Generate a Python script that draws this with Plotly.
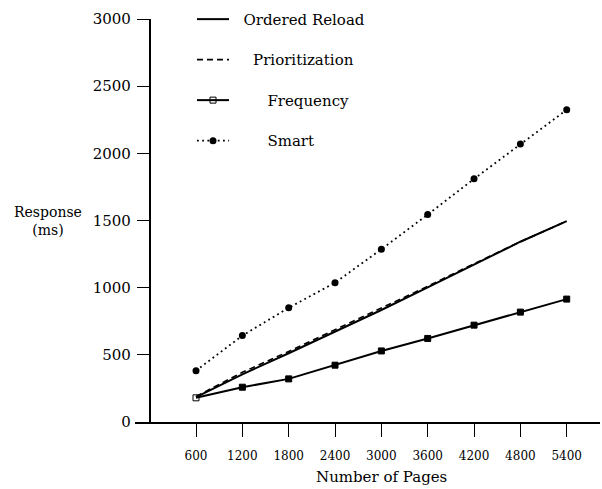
import plotly.graph_objects as go

pages = [600, 1200, 1800, 2400, 3000, 3600, 4200, 4800, 5400]
ordered_reload = [185, 355, 512, 672, 834, 1002, 1175, 1342, 1495]
prioritization = [190, 370, 525, 686, 846, 1010, 1178, 1342, 1495]
frequency = [180, 259, 321, 423, 529, 622, 721, 818, 915]
smart = [382, 643, 850, 1037, 1286, 1544, 1810, 2069, 2324]

x_ticks = pages
y_ticks = [0, 500, 1000, 1500, 2000, 2500, 3000]

FONT = "DejaVu Serif"
NB = "\u00a0"

fig = go.Figure()
fig.add_trace(go.Scatter(x=pages, y=ordered_reload, mode="lines", name=NB * 2 + "Ordered Reload",
                         legendgroup="a", line=dict(color="black", width=2)))
fig.add_trace(go.Scatter(x=pages, y=prioritization, mode="lines", name=NB * 4 + "Prioritization",
                         legendgroup="b", line=dict(color="black", width=1.6, dash="6px,4px")))
fig.add_trace(go.Scatter(x=pages, y=frequency, mode="lines+markers", name=NB * 7 + "Frequency",
                         legendgroup="c", line=dict(color="black", width=2),
                         marker=dict(symbol=["square-open"] + ["square"] * 8, size=6, color="black",
                                     line=dict(color="black", width=1))))
fig.add_trace(go.Scatter(x=pages, y=smart, mode="lines+markers", name=NB * 7 + "Smart",
                         legendgroup="d", line=dict(color="black", width=1.8, dash="1.8px,3.4px"),
                         marker=dict(symbol="circle", size=7, color="black")))

fig.add_annotation(text="Response<br>(ms)", xref="paper", yref="paper", x=-0.187, y=0.50,
                   xanchor="center", yanchor="middle",
                   showarrow=False, font=dict(family=FONT, size=14, color="black"), align="center")
fig.add_annotation(text="Number of Pages", xref="x", yref="paper", x=3000, y=0, yshift=-55,
                   xanchor="center", yanchor="middle",
                   showarrow=False, font=dict(family=FONT, size=15, color="black"))

fig.update_layout(
    width=602, height=489,
    margin=dict(l=135, r=2, t=19, b=67),
    paper_bgcolor="white", plot_bgcolor="white",
    font=dict(family=FONT, color="black"),
    showlegend=True,
    legend=dict(x=(192 - 135) / 465, y=1.04, xanchor="left", yanchor="top", tracegroupgap=18,
                font=dict(family=FONT, size=15, color="black"), bgcolor="rgba(0,0,0,0)",
                itemwidth=32),
    xaxis=dict(range=[-190, 5831], tickmode="array", tickvals=x_ticks,
               ticktext=[str(v) for v in x_ticks], showgrid=False, zeroline=False,
               showline=True, linecolor="black", linewidth=1.5, ticks="outside", ticklen=13,
               tickwidth=1.3, tickcolor="black", ticklabelstandoff=9,
               tickfont=dict(family=FONT, size=12, color="black")),
    yaxis=dict(range=[0, 3000], anchor="free", position=0.0315, tickmode="array",
               tickvals=y_ticks, ticktext=[str(v) for v in y_ticks], showgrid=False,
               zeroline=False, showline=True, linecolor="black", linewidth=1.5,
               ticks="outside", ticklen=12, tickwidth=1.3, tickcolor="black",
               ticklabelstandoff=3, tickfont=dict(family=FONT, size=15, color="black")),
)

fig.write_html("out.html")
